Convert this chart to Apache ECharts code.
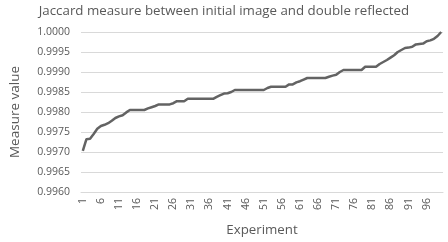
<!DOCTYPE html>
<html>
<head>
<meta charset="utf-8">
<script src="https://cdn.jsdelivr.net/npm/echarts@6/dist/echarts.min.js"></script>
<style>
  html, body {margin: 0; padding: 0; background: #fff;}
  #chart {width: 448px; height: 242px;}
</style>
</head>
<body>
<div id="chart"></div>
<script>
var experiments = [];
for (var i = 1; i <= 100; i++) experiments.push(String(i));

var measureValues = [
    0.99703, 0.99732, 0.99733, 0.99745, 0.99758, 0.99765, 0.99768, 0.99772, 0.99778, 0.99785,
    0.99789, 0.99792, 0.99799, 0.99805, 0.99805, 0.99805, 0.99805, 0.99805, 0.99809, 0.99812,
    0.99815, 0.99819, 0.99819, 0.99819, 0.99819, 0.99822, 0.99827, 0.99827, 0.99827, 0.99833,
    0.99833, 0.99833, 0.99833, 0.99833, 0.99833, 0.99833, 0.99833, 0.99838, 0.99842, 0.99846,
    0.99847, 0.99850, 0.99855, 0.99855, 0.99855, 0.99855, 0.99855, 0.99855, 0.99855, 0.99855,
    0.99855, 0.99860, 0.99863, 0.99863, 0.99863, 0.99863, 0.99863, 0.99869, 0.99869, 0.99874,
    0.99877, 0.99881, 0.99885, 0.99885, 0.99885, 0.99885, 0.99885, 0.99885, 0.99888, 0.99891,
    0.99893, 0.99900, 0.99905, 0.99905, 0.99905, 0.99905, 0.99905, 0.99905, 0.99913, 0.99913,
    0.99913, 0.99913, 0.99920, 0.99925, 0.99930, 0.99936, 0.99942, 0.99950, 0.99955, 0.99960,
    0.99961, 0.99963, 0.99969, 0.99970, 0.99971, 0.99977, 0.99979, 0.99983, 0.99990, 1.00000
];

var yMin = 0.9960, yMax = 1.0000, yStep = 0.0005;

var chart = echarts.init(document.getElementById('chart'));
var font = 'Open Sans';
var option = {
    animation: false,
    title: {
        text: 'Jaccard measure between initial image and double reflected',
        left: 'center',
        top: 0,
        textStyle: {fontFamily: font, fontSize: 13.3, fontWeight: 'normal', color: '#595959'}
    },
    grid: {left: 72, right: 5, top: 32, bottom: 44},
    xAxis: {
        type: 'category',
        data: experiments,
        name: 'Experiment',
        nameLocation: 'middle',
        nameGap: 32,
        nameTextStyle: {fontFamily: font, fontSize: 13.3, color: '#595959'},
        axisLine: {lineStyle: {color: '#d9d9d9'}},
        axisTick: {show: false},
        axisLabel: {
            interval: 4,
            rotate: 90,
            margin: 6,
            fontFamily: font,
            fontSize: 10.5,
            color: '#595959'
        }
    },
    yAxis: {
        type: 'value',
        min: yMin,
        max: yMax,
        interval: yStep,
        name: 'Measure value',
        nameLocation: 'middle',
        nameGap: 59,
        nameTextStyle: {fontFamily: font, fontSize: 13.5, color: '#595959'},
        axisLine: {show: false},
        axisTick: {show: false},
        splitLine: {lineStyle: {color: '#d9d9d9'}},
        axisLabel: {
            margin: 11,
            fontFamily: font,
            fontSize: 10.5,
            color: '#595959',
            formatter: function (v) { return v.toFixed(4); }
        }
    },
    series: [{
        type: 'line',
        data: measureValues,
        showSymbol: false,
        lineStyle: {color: '#636363', width: 2.5}
    }]
};
chart.setOption(option);
</script>
</body>
</html>
